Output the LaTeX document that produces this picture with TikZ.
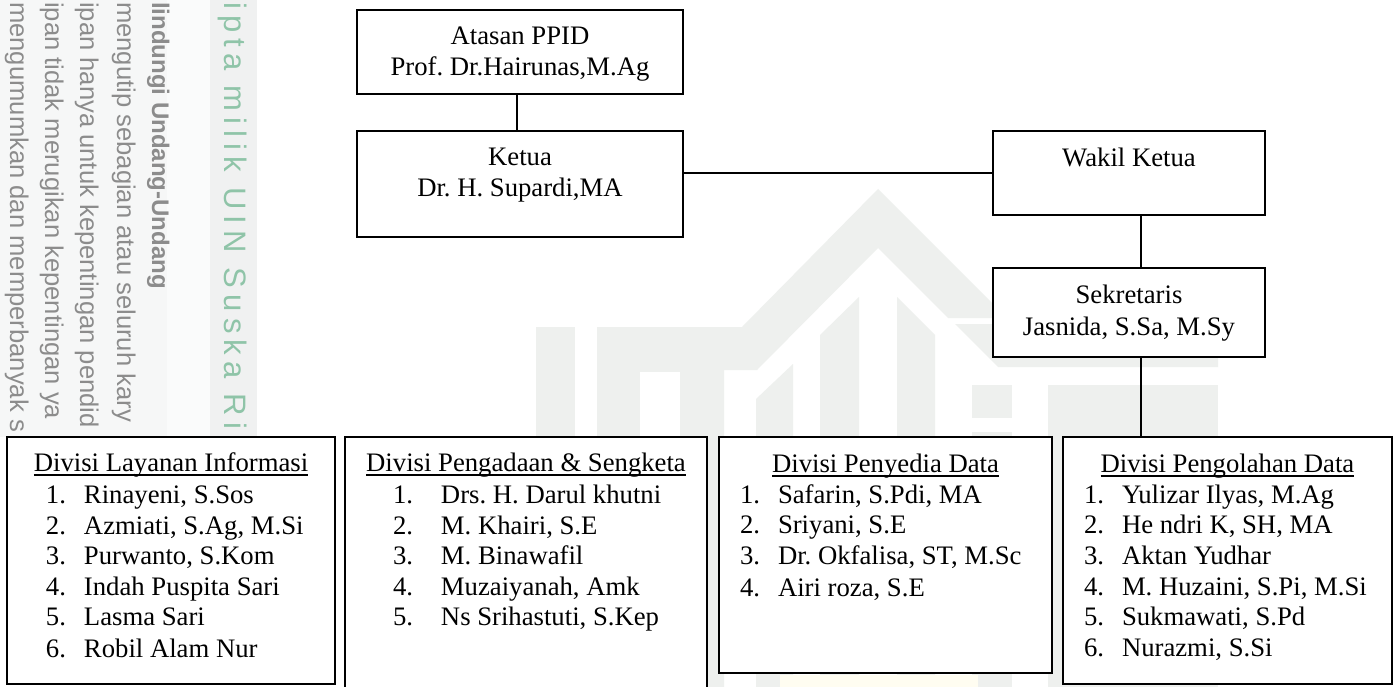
\documentclass[tikz,border=0pt]{standalone}
\usepackage{fontspec}
\setmainfont{Liberation Serif}
\newfontfamily\wmfont{Liberation Sans}
\newfontfamily\wmgreen[LetterSpace=20]{Liberation Sans}
\usetikzlibrary{calc}
\definecolor{wmlogo}{HTML}{EEF0EE}
\definecolor{wmside}{HTML}{F6F7F7}
\definecolor{wmband}{HTML}{F0F1F1}
\definecolor{wmgray}{HTML}{8C8C8C}
\definecolor{wmgreen}{HTML}{8FC4A8}
\definecolor{wmyellow}{HTML}{FFFDF1}
\newdimen\bw
\newcommand{\rowl}[2]{\hbox to \bw{\vrule width 0pt height #1pt depth 0pt\smash{\hbox to \bw{#2}}}}
\newcommand{\ctr}[2]{\rowl{#1}{\hss #2\hss}}
\newcommand{\ulin}[1]{\setbox0\hbox{#1}\rlap{\vrule width\wd0 height -3.2pt depth 5.2pt}\box0}
\newcommand{\itm}[5]{\rowl{#1}{\hskip #2pt\rlap{#4}\hskip #3pt\rlap{#5}\hss}}
\newcommand{\bxc}[3]{\bw=#1pt\vbox to #2pt{\offinterlineskip #3\vss}}
\tikzset{
 x=1pt,y=1pt,
 orgbox/.style={draw=black,line width=1.9pt,fill=white,inner sep=0pt,outer sep=0pt,anchor=north west,font=\frenchspacing\fontsize{26.7}{30}\selectfont},
 link/.style={draw=black,line width=1.6pt},
 wmline/.style={anchor=base west,rotate=-90,inner sep=0pt,text=wmgray,font=\wmfont\fontsize{25.6}{27}\selectfont},
}
\begin{document}
\begin{tikzpicture}
\useasboundingbox (0,0) rectangle (1395,-687);
\clip (0,0) rectangle (1395,-687);
\fill[white] (0,0) rectangle (1395,-687);
% sidebar
\fill[wmside] (0,0) rectangle (167,-437);
\fill[wmside!50!white] (167,0) rectangle (210,-437);
\fill[wmband] (210,0) rectangle (257,-437);
\node[wmline] (wm1) at (10,-2) {mengumumkan dan memperbanyak s};
\node[wmline] (wm2) at (45,-2) {ipan tidak merugikan kepentingan ya};
\node[wmline] (wm3) at (80,-2) {ipan hanya untuk kepentingan pendid};
\node[wmline] (wm4) at (117,-2) {mengutip sebagian atau seluruh kary};
\node[wmline,font=\wmfont\bfseries\fontsize{24}{26}\selectfont] (wm5) at (152,-2) {lindungi Undang-Undang};
\node[wmline,text=wmgreen,font=\wmgreen\fontsize{31}{33}\selectfont] (wm6) at (224,-2) {ipta milik UIN Suska Ri};
% logo watermark
\fill[wmlogo] (597,-327) -- (742,-327) -- (878,-189) -- (1007,-318) -- (948,-318) -- (878,-248) -- (757,-370) -- (724,-370) -- (724,-700) -- (597,-700) -- cycle;
\fill[white] (640,-372) rectangle (680,-700);
\fill[wmlogo] (536,-327) rectangle (575,-700);
\fill[wmlogo] (756,-399) -- (793,-364) -- (793,-700) -- (756,-700) -- cycle;
\fill[wmlogo] (820,-335) -- (859,-297) -- (859,-700) -- (820,-700) -- cycle;
\fill[wmlogo] (897,-297) -- (935,-335) -- (935,-700) -- (897,-700) -- cycle;
\fill[wmlogo] (955,-324) -- (1218,-324) -- (1218,-367) -- (998,-367) -- cycle;
\fill[wmlogo] (972,-385) rectangle (1012,-418);
\fill[wmlogo] (972,-432) rectangle (1012,-700);
\fill[wmlogo] (1048,-385) rectangle (1218,-700);
\fill[wmyellow] (780,-675) rectangle (978,-687);
% boxes
\node[orgbox] (atasan) at (357,-10) {\bxc{326}{84}{\ctr{35}{Atasan PPID}\ctr{31}{Prof. Dr.Hairunas,M.Ag}}};
\node[orgbox] (ketua) at (357,-131) {\bxc{326}{106}{\ctr{35}{Ketua}\ctr{31}{Dr. H. Supardi,MA}}};
\node[orgbox] (wakil) at (993,-131) {\bxc{272}{84}{\ctr{36}{Wakil Ketua}}};
\node[orgbox] (sekretaris) at (993,-268) {\bxc{272}{89}{\ctr{35}{Sekretaris}\ctr{32}{Jasnida, S.Sa, M.Sy}}};
\node[orgbox] (layanan) at (7,-437) {\bxc{328}{247}{\ctr{34}{\ulin{Divisi Layanan Informasi}}%
 \itm{32}{39}{38}{1.}{Rinayeni, S.Sos}\itm{31}{39}{38}{2.}{Azmiati, S.Ag, M.Si}\itm{30}{39}{38}{3.}{Purwanto, S.Kom}%
 \itm{31}{39}{38}{4.}{Indah Puspita Sari}\itm{30}{39}{38}{5.}{Lasma Sari}\itm{32}{39}{38}{6.}{Robil Alam Nur}}};
\node[orgbox] (pengadaan) at (345,-437) {\bxc{362}{270}{\ctr{34}{\ulin{Divisi Pengadaan \& Sengketa}}%
 \itm{32}{48}{48}{1.}{Drs. H. Darul khutni}\itm{31}{48}{48}{2.}{M. Khairi, S.E}\itm{30}{48}{48}{3.}{M. Binawafil}%
 \itm{31}{48}{48}{4.}{Muzaiyanah, Amk}\itm{30}{48}{48}{5.}{Ns Srihastuti, S.Kep}}};
\node[orgbox] (penyedia) at (719,-437) {\bxc{333}{236}{\ctr{35}{\ulin{Divisi Penyedia Data}}%
 \itm{31}{21}{38}{1.}{Safarin, S.Pdi, MA}\itm{30}{21}{38}{2.}{Sriyani, S.E}\itm{31}{21}{38}{3.}{Dr. Okfalisa, ST, M.Sc}\itm{32}{21}{38}{4.}{Airi roza, S.E}}};
\node[orgbox] (pengolahan) at (1063,-437) {\bxc{329}{247}{\ctr{35}{\ulin{Divisi Pengolahan Data}}%
 \itm{31}{21}{38}{1.}{Yulizar Ilyas, M.Ag}\itm{30}{21}{38}{2.}{He ndri K, SH, MA}\itm{31}{21}{38}{3.}{Aktan Yudhar}%
 \itm{31}{21}{38}{4.}{M. Huzaini, S.Pi, M.Si}\itm{30}{21}{38}{5.}{Sukmawati, S.Pd}\itm{31}{21}{38}{6.}{Nurazmi, S.Si}}};
% connectors
\draw[link] ([xshift=-3pt]atasan.south) -- ([xshift=-3pt]ketua.north);
\draw[link,line width=1.9pt] (ketua.east |- wakil.west) -- (wakil.west);
\draw[link] ([xshift=12pt]wakil.south) -- ([xshift=12pt]sekretaris.north);
\draw[link] ([xshift=12pt]sekretaris.south) -- ([xshift=12pt]sekretaris.south |- pengolahan.north);
\end{tikzpicture}
\end{document}
